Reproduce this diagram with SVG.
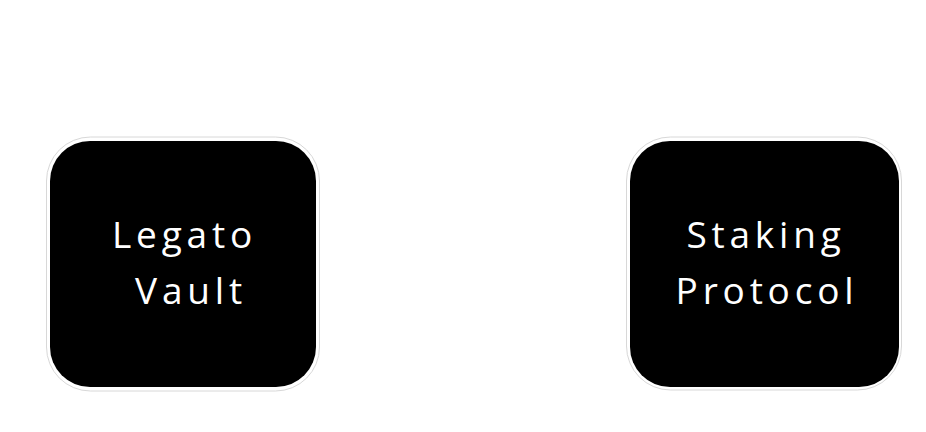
<svg xmlns="http://www.w3.org/2000/svg" width="926" height="432" viewBox="0 0 926 432">
<style>
.outer{fill:#ffffff;stroke:#d8d8d8;stroke-width:1}
.inner{fill:#000000}
.lbl{font-family:"Open Sans","Liberation Sans",sans-serif;font-weight:400;font-size:37px;fill:#ffffff;letter-spacing:4.8px;text-anchor:middle}
</style>
<rect width="926" height="432" fill="#ffffff"/>
<g id="connectors"></g>
<g id="legato-vault">
<rect class="outer" x="46.5" y="137" width="273" height="254" rx="44"/>
<rect class="inner" x="50" y="141" width="266" height="246" rx="40"/>
<text class="lbl" x="184.5" y="248">Legato</text>
<text class="lbl" x="191" y="304">Vault</text>
</g>
<g id="staking-protocol">
<rect class="outer" x="626.5" y="137" width="275" height="253" rx="44"/>
<rect class="inner" x="630" y="141" width="269" height="246" rx="40"/>
<text class="lbl" x="766" y="248">Staking</text>
<text class="lbl" x="767" y="304">Protocol</text>
</g>
</svg>
